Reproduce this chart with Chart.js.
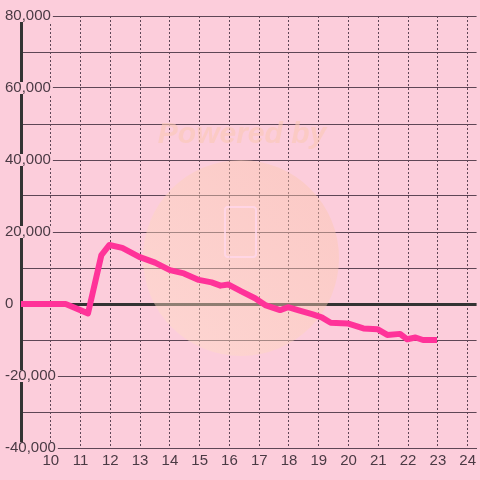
<!DOCTYPE html>
<html>
<head>
<meta charset="utf-8">
<script src="https://cdn.jsdelivr.net/npm/chart.js@4/dist/chart.umd.min.js"></script>
<style>
html,body{margin:0;padding:0;background:#fccddb;}
#wrap{width:480px;height:480px;position:relative;}
</style>
</head>
<body>
<div id="wrap"><canvas id="c" width="480" height="480"></canvas></div>
<script>
// Data
const hours = [9.0, 10.5, 11.25, 11.7, 11.97, 12.4, 12.97, 13.5, 14.0, 14.47, 14.97, 15.4, 15.7, 15.97, 16.4, 16.86, 17.2, 17.7, 17.97, 18.3, 18.8, 19.1, 19.4, 19.97, 20.5, 20.97, 21.3, 21.73, 21.97, 22.25, 22.5, 22.97];
const values = [0, 0, -2600, 13600, 16400, 15600, 13100, 11500, 9400, 8500, 6700, 6000, 5100, 5400, 3500, 1600, -300, -1700, -900, -1700, -2900, -3700, -5200, -5400, -6800, -7000, -8600, -8300, -9800, -9300, -10000, -10000];
const xTicks = [10, 11, 12, 13, 14, 15, 16, 17, 18, 19, 20, 21, 22, 23, 24];
const yLabelled = [80000, 60000, 40000, 20000, 0, -20000, -40000];
const watermarkText = 'Powered by';

const BG = '#fccddb';
const GRID = '#5e4656';
const LABEL = '#4a3a44';

const watermark = {
  id: 'watermark',
  beforeDatasetsDraw(chart) {
    const ctx = chart.ctx;
    ctx.save();
    const cx = 241, cy = 258, r = 98;
    const g = ctx.createLinearGradient(cx - r, cy + r, cx + r, cy - r);
    g.addColorStop(0, 'rgba(255,225,200,0.45)');
    g.addColorStop(1, 'rgba(250,195,170,0.45)');
    ctx.fillStyle = g;
    ctx.beginPath();
    ctx.arc(cx, cy, r, 0, Math.PI * 2);
    ctx.fill();
    ctx.strokeStyle = 'rgba(255,215,235,0.8)';
    ctx.lineWidth = 2;
    ctx.beginPath();
    ctx.roundRect(225, 207, 31, 50, 3);
    ctx.stroke();
    ctx.font = 'italic bold 30px "Liberation Sans"';
    ctx.fillStyle = 'rgba(250,200,180,0.6)';
    ctx.textAlign = 'center';
    ctx.textBaseline = 'middle';
    ctx.fillText(watermarkText, 242, 135);
    ctx.restore();
  }
};

const bgPlugin = {
  id: 'bg',
  beforeDraw(chart) {
    const ctx = chart.ctx;
    ctx.save();
    ctx.fillStyle = BG;
    ctx.fillRect(0, 0, chart.width, chart.height);
    ctx.restore();
  }
};

new Chart(document.getElementById('c'), {
  type: 'line',
  data: {
    datasets: [{
      data: hours.map((h, i) => ({x: h, y: values[i]})),
      borderColor: '#ff3399',
      borderWidth: 6,
      pointRadius: 0,
      tension: 0,
      fill: false,
      borderJoinStyle: 'round',
      borderCapStyle: 'butt'
    }]
  },
  options: {
    responsive: false,
    animation: false,
    devicePixelRatio: 1,
    layout: {padding: {left: 5, top: 16, right: 0, bottom: 6}},
    plugins: {legend: {display: false}, tooltip: {enabled: false}},
    scales: {
      x: {
        type: 'linear',
        min: 9,
        max: 24.3,
        afterBuildTicks(scale) { scale.ticks = xTicks.map(v => ({value: v})); },
        grid: {color: GRID, lineWidth: 1, drawTicks: false},
        border: {display: true, color: GRID, width: 1, dash: [2, 2]},
        ticks: {
          autoSkip: false, maxRotation: 0, padding: 4,
          color: LABEL,
          font: {family: '"Liberation Sans", Arial, sans-serif', size: 15, lineHeight: 1.2},
          callback: v => String(v)
        }
      },
      y: {
        min: -40000,
        max: 80000,
        afterFit(scale) {
          scale.width = 16;
          // let the labels run over the plot area as in the reference
          scale._computeLabelArea = () => undefined;
        },
        ticks: {
          stepSize: 10000,
          crossAlign: 'far',
          padding: 0,
          color: LABEL,
          font: {family: '"Liberation Sans", Arial, sans-serif', size: 15, lineHeight: 0.8},
          showLabelBackdrop: true,
          backdropColor: BG,
          backdropPadding: {left: 2, right: 2, top: 0, bottom: 0},
          callback: v => yLabelled.includes(v) ? v.toLocaleString('en-US') : ''
        },
        grid: {
          drawTicks: false,
          color: ctx => ctx.tick && ctx.tick.value === 0 ? '#333333' : GRID,
          lineWidth: ctx => ctx.tick && ctx.tick.value === 0 ? 3 : 1
        },
        border: {display: true, color: '#333333', width: 3}
      }
    }
  },
  plugins: [bgPlugin, watermark]
});
</script>
</body>
</html>
